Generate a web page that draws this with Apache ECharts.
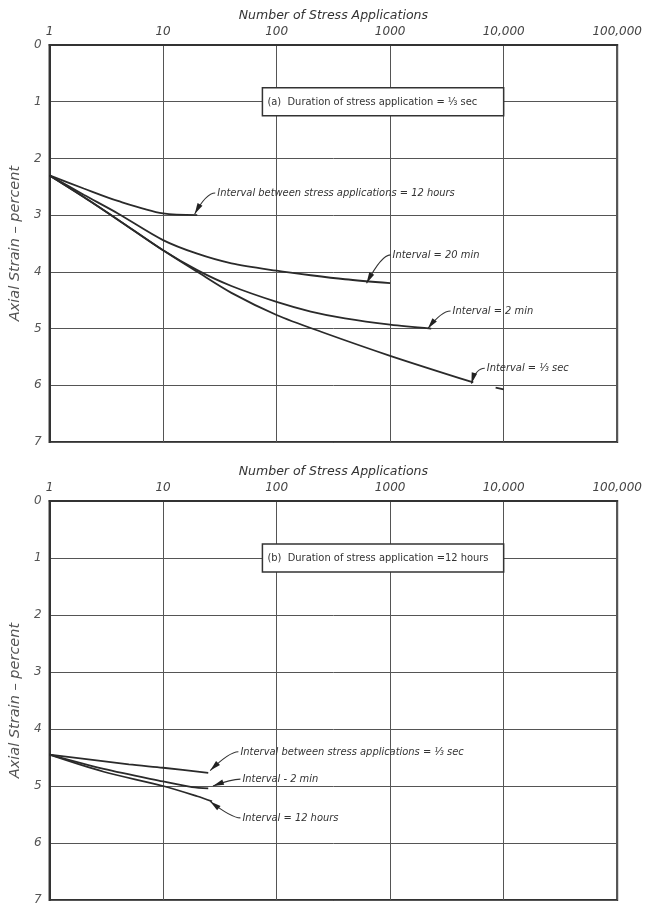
<!DOCTYPE html>
<html><head><meta charset="utf-8">
<script src="https://cdn.jsdelivr.net/npm/echarts@6/dist/echarts.min.js"></script>
<style>html,body{margin:0;padding:0;background:#fff}#c{width:645px;height:907px}</style>
</head><body><div id="c"></div>
<script>
// ---- tick labels ----
const xTickValues = [1, 10, 100, 1000, 10000, 100000];
const xTickLabels = ['1', '10', '100', '1000', '10,000', '100,000'];
const yTickLabels = ['0', '1', '2', '3', '4', '5', '6', '7'];

// ---- panel (a): duration 1/3 sec ----
const a12hX = [1, 2, 4, 10, 20];
const a12hY = [2.3, 2.53, 2.75, 2.97, 3.0];
const a20mX = [1, 2, 4, 10, 20, 40, 100, 200, 400, 1000];
const a20mY = [2.3, 2.64, 2.97, 3.44, 3.68, 3.85, 3.98, 4.06, 4.13, 4.2];
const a2mX = [1, 2, 4, 10, 20, 40, 100, 200, 400, 1000, 2300];
const a2mY = [2.3, 2.68, 3.08, 3.62, 3.97, 4.25, 4.53, 4.7, 4.82, 4.93, 5.0];
const a3sX = [1, 2, 4, 10, 20, 40, 100, 250, 1000, 5400];
const a3sY = [2.3, 2.68, 3.08, 3.62, 4.0, 4.37, 4.76, 5.06, 5.48, 5.95];
const a3sStubX = [8500, 10000];
const a3sStubY = [6.04, 6.07];

// ---- panel (b): duration 12 hours ----
const b3sX = [1, 5, 10, 25];
const b3sY = [4.45, 4.62, 4.68, 4.77];
const b2mX = [1, 3, 10, 18, 25];
const b2mY = [4.45, 4.7, 4.92, 5.02, 5.04];
const b12hX = [1, 3, 10, 20, 27];
const b12hY = [4.45, 4.75, 5.0, 5.18, 5.27];

// ---- annotation texts and anchors (data coords) ----
const annText = [
  'Interval between stress applications = 12 hours',
  'Interval = 20 min',
  'Interval = 2 min',
  'Interval = ⅓ sec',
  'Interval between stress applications = ⅓ sec',
  'Interval - 2 min',
  'Interval = 12 hours'
];
const annPanel = [0, 0, 0, 0, 1, 1, 1];
const annTextX = [30, 1050, 3550, 7100, 48, 50, 50];
const annTextY = [2.61, 3.7, 4.69, 5.7, 4.4, 4.88, 5.56];
const annTipX = [19, 620, 2150, 5200, 26, 27.5, 26];
const annTipY = [2.98, 4.2, 5.0, 5.97, 4.73, 5.0, 5.27];

const boxText = ['(a)  Duration of stress application = ⅓ sec', '(b)  Duration of stress application =12 hours'];
const boxX = [[75, 10000], [75, 10000]];

const zip = (xs, ys) => xs.map((x, i) => [x, ys[i]]);

const chart = echarts.init(document.getElementById('c'), null, {renderer: 'canvas'});
const ink = '#333';
const fontI = {fontFamily: 'DejaVu Sans', fontStyle: 'italic', color: '#444'};

function xAxis(gi) {
  return {
    gridIndex: gi, type: 'log', logBase: 10, min: 1, max: 100000, position: 'top',
    name: 'Number of Stress Applications', nameLocation: 'middle', nameGap: 23,
    nameTextStyle: Object.assign({}, fontI, {fontSize: 12.5, color: '#333'}),
    axisLine: {show: true, lineStyle: {color: ink, width: 2}},
    axisTick: {show: false},
    axisLabel: Object.assign({}, fontI, {fontSize: 12, margin: 7,
      formatter: v => { const i = xTickValues.indexOf(Math.round(v)); return i >= 0 ? xTickLabels[i] : ''; }}),
    splitLine: {show: true, lineStyle: {color: '#555', width: 1}},
    minorTick: {show: false}
  };
}
function yAxis(gi) {
  return {
    gridIndex: gi, type: 'value', min: 0, max: 7, interval: 1, inverse: true,
    name: 'Axial Strain – percent', nameLocation: 'middle', nameGap: 24, nameRotate: 90,
    nameTextStyle: Object.assign({}, fontI, {fontSize: 14.5, color: '#555'}),
    axisLine: {show: true, lineStyle: {color: ink, width: 2}},
    axisTick: {show: false},
    axisLabel: Object.assign({}, fontI, {fontSize: 12, margin: 8, color: '#555',
      formatter: v => yTickLabels[Math.round(v)] ?? ''}),
    splitLine: {show: true, lineStyle: {color: '#555', width: 1}}
  };
}
function line(gi, xs, ys) {
  return {
    type: 'line', xAxisIndex: gi, yAxisIndex: gi, data: zip(xs, ys), smooth: 0.3,
    showSymbol: false, symbol: 'none', lineStyle: {color: '#2a2a2a', width: 1.8}, silent: true
  };
}

chart.setOption({
  animation: false,
  backgroundColor: '#fff',
  grid: [
    {left: 44, top: 45, width: 576, height: 397, show: true, borderColor: ink, borderWidth: 2},
    {left: 44, top: 501, width: 576, height: 399, show: true, borderColor: ink, borderWidth: 2}
  ],
  xAxis: [xAxis(0), xAxis(1)],
  yAxis: [yAxis(0), yAxis(1)],
  series: [
    line(0, a12hX, a12hY), line(0, a20mX, a20mY), line(0, a2mX, a2mY), line(0, a3sX, a3sY),
    line(0, a3sStubX, a3sStubY),
    line(1, b3sX, b3sY), line(1, b2mX, b2mY), line(1, b12hX, b12hY)
  ]
});

// annotations placed through the axes' scales
const g = [];
for (let i = 0; i < annText.length; i++) {
  const gi = annPanel[i];
  const t = chart.convertToPixel({gridIndex: gi}, [annTextX[i], annTextY[i]]);
  const p = chart.convertToPixel({gridIndex: gi}, [annTipX[i], annTipY[i]]);
  g.push({type: 'text', x: t[0], y: t[1], style: {text: annText[i], fill: '#333',
    font: 'italic 11px "DejaVu Sans Condensed", "DejaVu Sans"', textVerticalAlign: 'middle', textAlign: 'left'}, z: 10});
  const sx = t[0] - 2, sy = t[1];
  const cx = t[0] - 11, cy = t[1];
  g.push({type: 'bezierCurve', shape: {x1: sx, y1: sy, x2: p[0], y2: p[1], cpx1: cx, cpy1: cy},
    style: {stroke: '#333', lineWidth: 1.1, fill: null}, z: 10});
  // arrowhead
  const dx = p[0] - cx, dy = p[1] - cy, L = Math.hypot(dx, dy) || 1;
  const ux = dx / L, uy = dy / L, len = 11, w = 2.8;
  const bx = p[0] - ux * len, by = p[1] - uy * len;
  g.push({type: 'polygon', shape: {points: [[p[0], p[1]], [bx - uy * w, by + ux * w], [bx + uy * w, by - ux * w]]},
    style: {fill: '#222'}, z: 11});
}
for (let i = 0; i < 2; i++) {
  const l = chart.convertToPixel({gridIndex: i}, [boxX[i][0], 1]);
  const r = chart.convertToPixel({gridIndex: i}, [boxX[i][1], 1]);
  const h = 28;
  g.push({type: 'rect', shape: {x: l[0], y: l[1] - h / 2, width: r[0] - l[0], height: h},
    style: {fill: '#fff', stroke: '#333', lineWidth: 1.5}, z: 12});
  g.push({type: 'text', x: l[0] + 5, y: l[1], style: {text: boxText[i], fill: '#333',
    font: '11px "Liberation Sans Narrow", "DejaVu Sans Condensed", "Liberation Sans"', textVerticalAlign: 'middle'}, z: 13});
}
chart.setOption({graphic: g});
</script>
</body></html>
